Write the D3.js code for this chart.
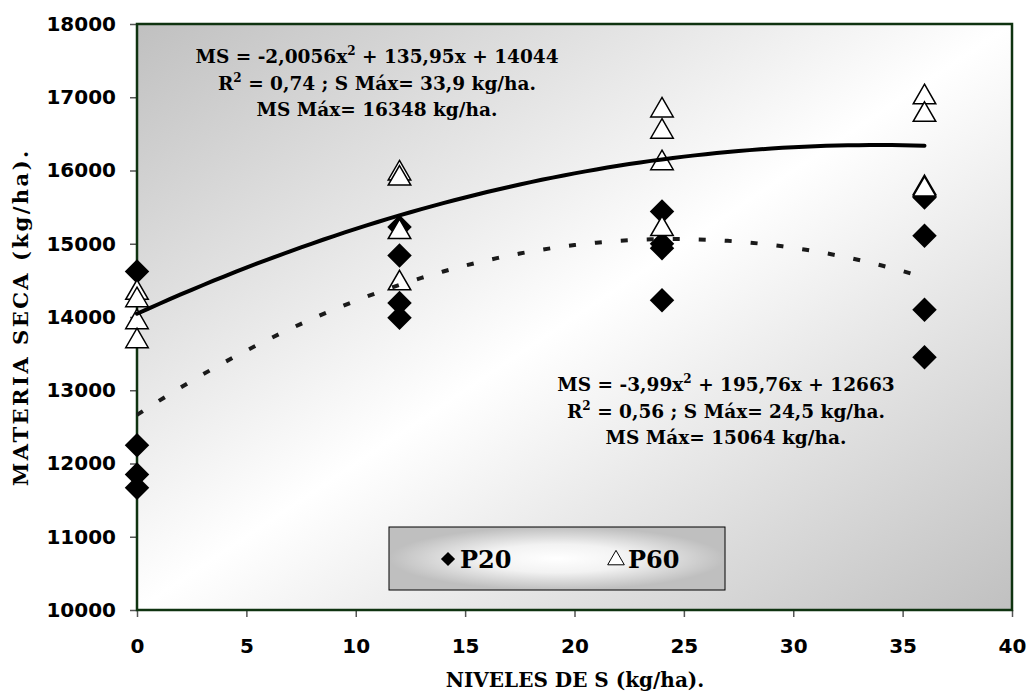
<!DOCTYPE html>
<html>
<head>
<meta charset="utf-8">
<script src="https://cdn.jsdelivr.net/npm/d3@7"></script>
<style>
  body { margin: 0; background: #fff; }
  .tick text { font-family: "DejaVu Sans", Verdana, sans-serif; font-weight: bold; font-size: 20px; fill: #000; }
  .ser { font-family: "DejaVu Serif", "Liberation Serif", serif; font-weight: bold; fill: #000; }
</style>
</head>
<body>
<div id="container"></div>
<script>
var sLevels = [0, 12, 24, 36];
var p20 = [
    [14620, 12250, 11850, 11670],
    [15230, 14840, 14190, 13990],
    [15440, 15000, 14940, 14230],
    [15630, 15110, 14100, 13450]
];
var p60 = [
    [14330, 14230, 13930, 13670],
    [15960, 15890, 15160, 14460],
    [16820, 16530, 16100, 15200],
    [17000, 16760, 15760, 15740]
];
// trendline coefficients [a, b, c] for a*x^2 + b*x + c
var trendP60 = [-2.0056, 135.95, 14044];
var trendP20 = [-3.99, 195.76, 12663];
var xTicks = [0, 5, 10, 15, 20, 25, 30, 35, 40];
var yTicks = [10000, 11000, 12000, 13000, 14000, 15000, 16000, 17000, 18000];
var note1 = ['MS = -2,0056x', ' + 135,95x + 14044', 'R', ' = 0,74 ; S Máx= 33,9 kg/ha.', 'MS Máx= 16348 kg/ha.'];
var note2 = ['MS = -3,99x', ' + 195,76x + 12663', 'R', ' = 0,56 ; S Máx= 24,5 kg/ha.', 'MS Máx= 15064 kg/ha.'];

var width = 1028, height = 692,
    plotL = 137, plotR = 1012, plotT = 24, plotB = 610;

var svg = d3.select('#container')
    .append('svg')
    .attr('width', width)
    .attr('height', height);

var defs = svg.append('defs');
var bg = defs.append('linearGradient').attr('id', 'bg')
    .attr('x1', 0).attr('y1', 0).attr('x2', 1).attr('y2', 1);
bg.append('stop').attr('offset', '0%').attr('stop-color', '#c0c0c0');
bg.append('stop').attr('offset', '50%').attr('stop-color', '#ffffff');
bg.append('stop').attr('offset', '100%').attr('stop-color', '#c0c0c0');

var lg = defs.append('radialGradient').attr('id', 'lg')
    .attr('cx', 0.5).attr('cy', 0.5).attr('r', 0.5);
lg.append('stop').attr('offset', '0%').attr('stop-color', '#ffffff');
lg.append('stop').attr('offset', '45%').attr('stop-color', '#f2f2f2');
lg.append('stop').attr('offset', '100%').attr('stop-color', '#bfbfbf');

var x = d3.scaleLinear().domain([0, 40]).range([plotL, plotR]);
var y = d3.scaleLinear().domain([10000, 18000]).range([plotB, plotT]);

svg.append('rect')
    .attr('x', plotL).attr('y', plotT)
    .attr('width', plotR - plotL).attr('height', plotB - plotT)
    .attr('fill', 'url(#bg)');

// axes
svg.append('g')
    .attr('transform', 'translate(' + plotL + ',0)')
    .call(d3.axisLeft(y).tickValues(yTicks).tickSize(7).tickPadding(14).tickFormat(d3.format('d')));
svg.append('g')
    .attr('transform', 'translate(0,' + plotB + ')')
    .call(d3.axisBottom(x).tickValues(xTicks).tickSize(7).tickPadding(22).tickFormat(d3.format('d')));
svg.selectAll('.domain').remove();
svg.selectAll('.tick line').attr('stroke', '#555').attr('stroke-width', 1.5);

// plot border
svg.append('rect')
    .attr('x', plotL).attr('y', plotT)
    .attr('width', plotR - plotL).attr('height', plotB - plotT)
    .attr('fill', 'none')
    .attr('stroke', '#0f3310')
    .attr('stroke-width', 2.5);

var diamond = d3.symbol().type(d3.symbolSquare).size(300);
var triangle = d3.symbol().type(d3.symbolTriangle).size(220);

function flat(vals) {
    var out = [];
    vals.forEach(function(arr, i) {
        arr.forEach(function(v) { out.push({ s: sLevels[i], v: v }); });
    });
    return out;
}

svg.append('g').selectAll('path')
    .data(flat(p20))
    .enter()
    .append('path')
    .attr('d', diamond)
    .attr('transform', function(d) {
        return 'translate(' + x(d.s) + ',' + y(d.v) + ') rotate(45)';
    })
    .attr('fill', '#000');

svg.append('g').selectAll('path')
    .data(flat(p60))
    .enter()
    .append('path')
    .attr('d', triangle)
    .attr('transform', function(d) {
        return 'translate(' + x(d.s) + ',' + y(d.v) + ')';
    })
    .attr('fill', '#fff')
    .attr('stroke', '#000')
    .attr('stroke-width', 1.5);

// trendlines
function curve(c) {
    return d3.range(0, 36.01, 0.5).map(function(s) {
        return [s, c[0] * s * s + c[1] * s + c[2]];
    });
}
var line = d3.line()
    .x(function(d) { return x(d[0]); })
    .y(function(d) { return y(d[1]); });

svg.append('path')
    .attr('d', line(curve(trendP60)))
    .attr('fill', 'none')
    .attr('stroke', '#000')
    .attr('stroke-width', 4)
    .attr('stroke-linecap', 'round');

svg.append('path')
    .attr('d', line(curve(trendP20)))
    .attr('fill', 'none')
    .attr('stroke', '#1a1a1a')
    .attr('stroke-width', 4)
    .attr('stroke-dasharray', '7,19');

// equation notes
function note(lines, cx, y0) {
    var t1 = svg.append('text').attr('class', 'ser')
        .attr('x', cx).attr('y', y0).attr('text-anchor', 'middle').style('font-size', '18.5px');
    t1.append('tspan').text(lines[0]);
    t1.append('tspan').text('2').attr('dy', -8).style('font-size', '12px');
    t1.append('tspan').text(lines[1]).attr('dy', 8);
    var t2 = svg.append('text').attr('class', 'ser')
        .attr('x', cx).attr('y', y0 + 27).attr('text-anchor', 'middle').style('font-size', '18.5px');
    t2.append('tspan').text(lines[2]);
    t2.append('tspan').text('2').attr('dy', -8).style('font-size', '12px');
    t2.append('tspan').text(lines[3]).attr('dy', 8);
    svg.append('text').attr('class', 'ser')
        .attr('x', cx).attr('y', y0 + 53).attr('text-anchor', 'middle').style('font-size', '18.5px')
        .text(lines[4]);
}
note(note1, 377, 63);
note(note2, 726, 391);

// legend
svg.append('rect')
    .attr('x', 389).attr('y', 527)
    .attr('width', 336).attr('height', 63)
    .attr('fill', 'url(#lg)')
    .attr('stroke', '#000')
    .attr('stroke-width', 1);
svg.append('path')
    .attr('d', d3.symbol().type(d3.symbolSquare).size(100))
    .attr('transform', 'translate(448,559) rotate(45)')
    .attr('fill', '#000');
svg.append('text').attr('class', 'ser')
    .attr('x', 460).attr('y', 568).style('font-size', '24px').text('P20');
svg.append('path')
    .attr('d', d3.symbol().type(d3.symbolTriangle).size(120))
    .attr('transform', 'translate(616,560)')
    .attr('fill', '#fff').attr('stroke', '#000').attr('stroke-width', 1);
svg.append('text').attr('class', 'ser')
    .attr('x', 628).attr('y', 568).style('font-size', '24px').text('P60');

// axis titles
svg.append('text').attr('class', 'ser')
    .attr('x', 575).attr('y', 687).attr('text-anchor', 'middle').style('font-size', '20px')
    .text('NIVELES DE S (kg/ha).');
svg.append('text').attr('class', 'ser')
    .attr('transform', 'translate(28,317) rotate(-90)')
    .attr('text-anchor', 'middle').style('font-size', '21px')
    .style('letter-spacing', '2.5px')
    .text('MATERIA SECA (kg/ha).');
</script>
</body>
</html>
